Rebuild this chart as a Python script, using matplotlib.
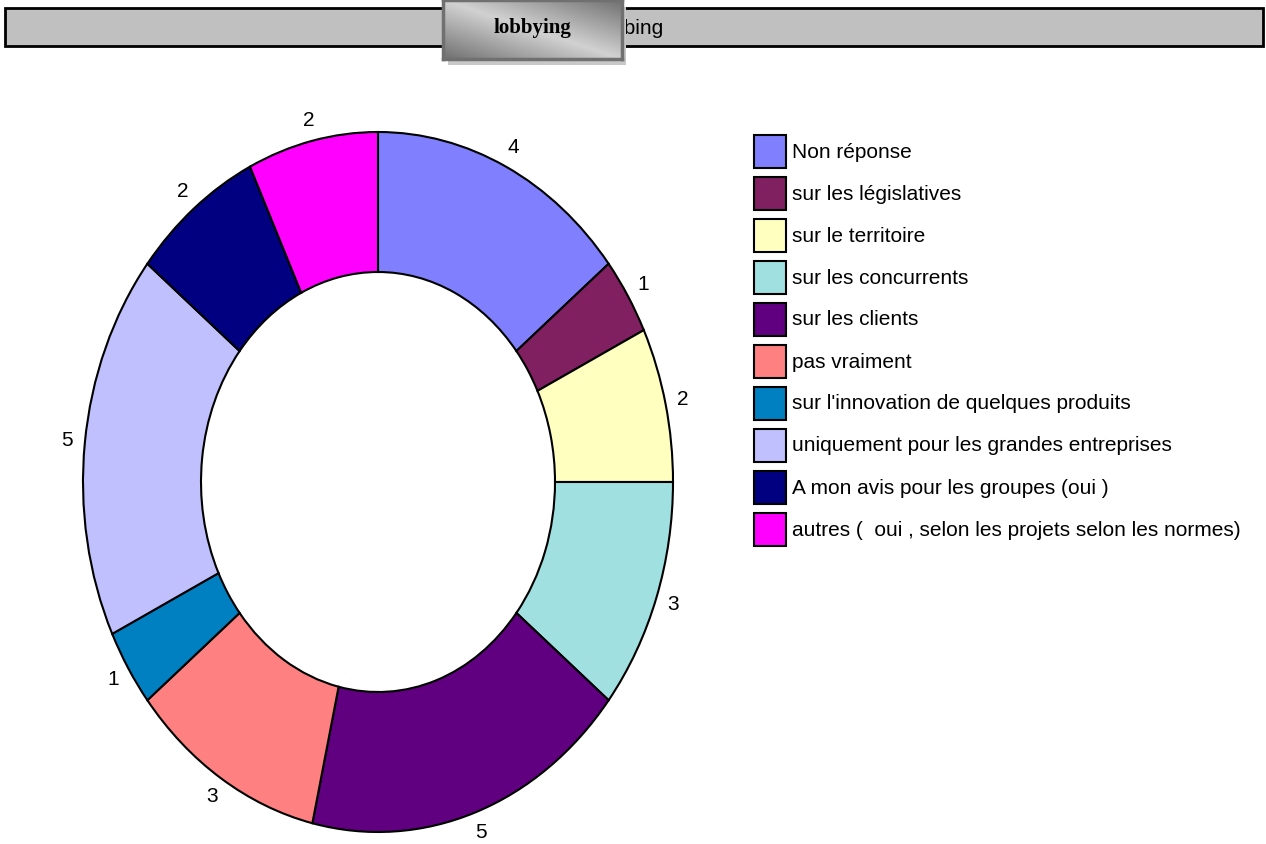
import numpy as np
import matplotlib
matplotlib.use('Agg')
import matplotlib.pyplot as plt
from matplotlib.patches import Rectangle

# survey answers on lobbying
labels = ["Non réponse",
          "sur les législatives",
          "sur le territoire",
          "sur les concurrents",
          "sur les clients",
          "pas vraiment",
          "sur l'innovation de quelques produits",
          "uniquement pour les grandes entreprises",
          "A mon avis pour les groupes (oui )",
          "autres (  oui , selon les projets selon les normes)"]
counts = [4, 1, 2, 3, 5, 3, 1, 5, 2, 2]
colors = ['#8080ff', '#802060', '#ffffc0', '#a0e0e0', '#600080',
          '#ff8080', '#0080c0', '#c0c0ff', '#000080', '#ff00ff']

plt.rcParams['font.family'] = ['Liberation Sans', 'DejaVu Sans']

W, H = 1266, 844
fig = plt.figure(figsize=(W / 100, H / 100), dpi=100)


def fx(px):
    return px / W


def fy(py):
    return 1 - py / H


# grey header bar
fig.patches.append(Rectangle((fx(5), fy(46)), fx(1258), 38 / H,
                             transform=fig.transFigure, facecolor='#c0c0c0',
                             edgecolor='black', linewidth=2, zorder=1))
fig.text(fx(664), fy(29), "lobbing", ha='right', va='center',
         fontsize=15, zorder=2)

# title box with shadow and diagonal gradient
fig.patches.append(Rectangle((fx(448), fy(65)), fx(178), 58 / H,
                             transform=fig.transFigure, facecolor='#c8c8c8',
                             edgecolor='none', zorder=3))
tax = fig.add_axes([fx(443), fy(59), fx(179), 59 / H], zorder=4)
u, v = np.meshgrid(np.linspace(0, 1, 200), np.linspace(0, 1, 80))
grad = 0.82 - 0.38 * np.abs(u - v)
tax.imshow(grad, cmap='gray', vmin=0, vmax=1, aspect='auto',
           extent=[0, 1, 0, 1], origin='upper')
tax.set_xticks([])
tax.set_yticks([])
for s in tax.spines.values():
    s.set_color('#707070')
    s.set_linewidth(2.5)
tax.text(0.5, 0.52, "lobbying", ha='center', va='center',
         family='Liberation Serif', fontweight='bold', fontsize=15,
         transform=tax.transAxes)

# donut
ax = fig.add_axes([fx(83), fy(832), fx(590), 700 / H])
wedges, texts = ax.pie(counts, colors=colors, startangle=90,
                       counterclock=False, labels=[str(c) for c in counts],
                       labeldistance=1.06,
                       wedgeprops=dict(width=0.4, edgecolor='black',
                                       linewidth=1.5),
                       textprops=dict(fontsize=15))
for t in texts:
    t.set_ha('center')
    t.set_va('center')
ax.set_aspect('auto')
ax.set_xlim(-1, 1)
ax.set_ylim(-1, 1)

# legend: one swatch and label per answer
for i, (lab, col) in enumerate(zip(labels, colors)):
    top = 135 + 42 * i
    fig.patches.append(Rectangle((fx(754), fy(top + 33)), fx(32), 33 / H,
                                 transform=fig.transFigure, facecolor=col,
                                 edgecolor='black', linewidth=1.5))
    fig.text(fx(792), fy(top + 17), lab, ha='left', va='center', fontsize=15)

fig.savefig('out.png', dpi=100)
